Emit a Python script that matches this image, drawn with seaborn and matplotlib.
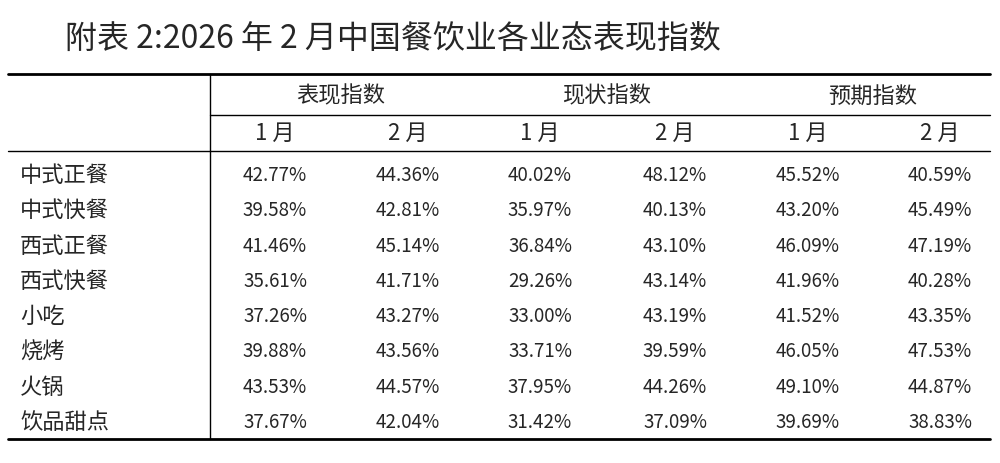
import seaborn as sns
import pandas as pd
import matplotlib.pyplot as plt

sns.set_style("white")
plt.rcParams['font.family'] = ['Noto Sans CJK SC', 'DejaVu Sans']

title = "附表 2:2026 年 2 月中国餐饮业各业态表现指数"
groups = ["表现指数", "现状指数", "预期指数"]
months = ["1 月", "2 月"]
categories = ["中式正餐", "中式快餐", "西式正餐", "西式快餐", "小吃", "烧烤", "火锅", "饮品甜点"]
perf_jan = [42.77, 39.58, 41.46, 35.61, 37.26, 39.88, 43.53, 37.67]
perf_feb = [44.36, 42.81, 45.14, 41.71, 43.27, 43.56, 44.57, 42.04]
curr_jan = [40.02, 35.97, 36.84, 29.26, 33.00, 33.71, 37.95, 31.42]
curr_feb = [48.12, 40.13, 43.10, 43.14, 43.19, 39.59, 44.26, 37.09]
exp_jan = [45.52, 43.20, 46.09, 41.96, 41.52, 46.05, 49.10, 39.69]
exp_feb = [40.59, 45.49, 47.19, 40.28, 43.35, 47.53, 44.87, 38.83]

df = pd.DataFrame({"c0": perf_jan, "c1": perf_feb, "c2": curr_jan,
                   "c3": curr_feb, "c4": exp_jan, "c5": exp_feb}, index=categories)

fig = plt.figure(figsize=(10, 4.64), dpi=100)
ax = fig.add_axes([0, 0, 1, 1])
ax.set_xlim(0, 1000)
ax.set_ylim(464, 0)
ax.axis("off")

ax.text(65, 40, title, fontsize=23, va="center", ha="left")

col_x = [275, 408, 540, 675, 808, 940]
group_x = [341, 607, 873]
top, mid, sub, bottom = 75, 116, 152, 440
left, split, right = 8, 210, 990

ax.plot([left, right], [top, top], color="black", lw=2)
ax.plot([split, right], [mid, mid], color="black", lw=1)
ax.plot([left, right], [sub, sub], color="black", lw=1)
ax.plot([left, right], [bottom, bottom], color="black", lw=2)
ax.plot([split, split], [top, bottom], color="black", lw=1)

for g, x in zip(groups, group_x):
    ax.text(x, 96, g, fontsize=16, ha="center", va="center")
for i, x in enumerate(col_x):
    ax.text(x, 133, months[i % 2], fontsize=16, ha="center", va="center")

row_h = (bottom - sub - 6) / len(categories)
for r, cat in enumerate(categories):
    y = sub + 6 + row_h * (r + 0.5)
    ax.text(20, y, cat, fontsize=16, ha="left", va="center")
    for c, x in enumerate(col_x):
        ax.text(x, y, f"{df.iloc[r, c]:.2f}%", fontsize=13.5, ha="center", va="center")

fig.savefig("out.png", dpi=100)
